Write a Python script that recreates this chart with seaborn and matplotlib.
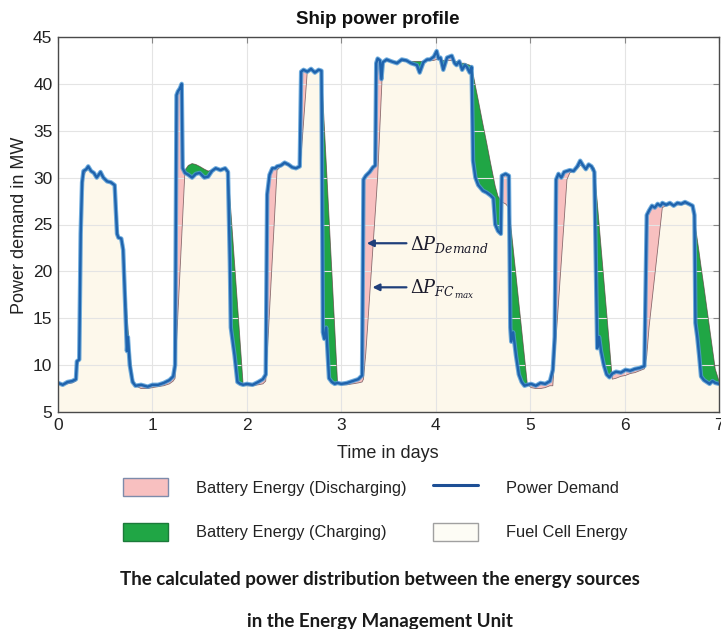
import numpy as np
import pandas as pd
import matplotlib
matplotlib.use("Agg")
import matplotlib.pyplot as plt
import seaborn as sns
from matplotlib.patches import Patch
from matplotlib.lines import Line2D

# ---------------- data ----------------
t = [0.00, 0.05, 0.10, 0.15, 0.19, 0.200, 0.225, 0.240, 0.255, 0.27, 0.30, 0.32, 0.35, 0.38, 0.41, 0.43, 0.45, 0.48,
     0.52, 0.56, 0.60, 0.625, 0.64, 0.67, 0.69, 0.71, 0.73, 0.74, 0.76, 0.79, 0.82, 0.88, 0.95, 1.00, 1.06, 1.12,
     1.18, 1.22, 1.24, 1.255, 1.27, 1.29, 1.31, 1.32, 1.345, 1.38, 1.42, 1.46, 1.50, 1.55, 1.59, 1.63, 1.67, 1.72,
     1.77, 1.80, 1.82, 1.83, 1.85, 1.87, 1.90, 1.93, 1.96, 2.00, 2.06, 2.12, 2.17, 2.20, 2.215, 2.24, 2.27, 2.30,
     2.32, 2.36, 2.40, 2.44, 2.48, 2.52, 2.56, 2.575, 2.60, 2.64, 2.68, 2.72, 2.76, 2.79, 2.805, 2.82, 2.84, 2.87,
     2.90, 2.93, 2.96, 3.00, 3.06, 3.12, 3.18, 3.22, 3.235, 3.26, 3.30, 3.335, 3.36, 3.37, 3.385, 3.41, 3.425, 3.44,
     3.48, 3.53, 3.59, 3.64, 3.69, 3.74, 3.80, 3.83, 3.87, 3.91, 3.94, 3.98, 4.01, 4.03, 4.05, 4.08, 4.12, 4.17,
     4.20, 4.22, 4.25, 4.28, 4.31, 4.33, 4.36, 4.38, 4.395, 4.42, 4.45, 4.50, 4.54, 4.58, 4.61, 4.63, 4.66, 4.69,
     4.70, 4.74, 4.775, 4.79, 4.80, 4.82, 4.85, 4.88, 4.91, 4.94, 4.97, 5.01, 5.06, 5.11, 5.16, 5.21, 5.24, 5.26,
     5.275, 5.30, 5.33, 5.36, 5.39, 5.42, 5.46, 5.50, 5.53, 5.56, 5.59, 5.62, 5.65, 5.68, 5.70, 5.71, 5.73, 5.75,
     5.78, 5.81, 5.84, 5.87, 5.91, 5.96, 6.01, 6.06, 6.11, 6.16, 6.21, 6.235, 6.26, 6.29, 6.32, 6.35, 6.38, 6.40,
     6.44, 6.48, 6.52, 6.56, 6.60, 6.64, 6.68, 6.72, 6.74, 6.75, 6.77, 6.79, 6.81, 6.84, 6.87, 6.90, 6.93, 6.96, 7.00]

demand = [8.1, 7.9, 8.2, 8.3, 8.5, 10.4, 10.6, 24.0, 29.5, 30.7, 30.9, 31.2, 30.7, 30.5, 30.0, 30.3, 30.6, 30.0,
          29.6, 29.5, 29.2, 24.0, 23.6, 23.5, 22.3, 17.0, 11.5, 13.0, 10.0, 8.2, 7.8, 7.9, 7.7, 7.9, 7.9, 8.1,
          8.4, 8.8, 10.0, 38.8, 39.2, 39.5, 40.0, 31.0, 30.5, 30.3, 30.0, 30.4, 30.5, 30.0, 30.1, 30.7, 31.0, 30.8,
          31.0, 30.6, 21.0, 14.0, 12.5, 11.0, 8.2, 8.0, 7.9, 8.0, 7.9, 8.2, 8.5, 9.0, 28.2, 30.3, 31.0, 31.0,
          31.2, 31.3, 31.6, 31.4, 31.1, 31.0, 31.2, 41.3, 41.5, 41.3, 41.6, 41.2, 41.5, 41.4, 13.5, 12.8, 14.0, 8.6,
          8.2, 8.0, 8.1, 8.0, 8.1, 8.3, 8.5, 8.9, 29.8, 30.2, 30.6, 31.1, 31.3, 42.2, 42.7, 42.5, 40.5, 42.3,
          42.6, 42.4, 42.2, 42.6, 42.5, 42.2, 42.0, 41.2, 42.3, 42.6, 42.6, 42.9, 43.5, 42.7, 42.8, 41.5, 42.8, 43.0,
          42.2, 42.0, 42.4, 41.5, 42.0, 41.8, 41.2, 41.8, 31.8, 30.0, 29.2, 28.6, 28.4, 28.1, 27.8, 25.0, 24.3, 24.0,
          30.2, 30.4, 30.2, 14.0, 12.5, 13.5, 11.0, 9.0, 8.2, 7.8, 7.9, 8.0, 7.8, 8.1, 8.0, 8.3, 9.5, 13.0,
          29.8, 30.4, 30.0, 30.6, 30.7, 30.8, 30.7, 31.2, 31.8, 31.3, 30.9, 31.4, 31.2, 30.6, 18.0, 11.8, 13.0, 11.5,
          10.0, 9.0, 8.7, 9.1, 9.3, 9.2, 9.5, 9.4, 9.6, 9.7, 9.9, 26.0, 26.5, 27.0, 26.8, 27.2, 27.0, 27.3,
          27.1, 27.3, 27.0, 27.3, 27.2, 27.4, 27.2, 27.0, 26.0, 14.5, 13.0, 11.0, 8.8, 8.4, 8.2, 8.0, 8.3, 8.1, 8.0]

fuel_cell = [8.0, 7.9, 8.0, 8.1, 8.3, 9.8, 10.5, 20.0, 27.5, 30.2, 30.8, 31.0, 30.8, 30.5, 30.2, 30.2, 30.3, 30.0,
             29.7, 29.4, 29.2, 26.0, 23.8, 23.4, 22.8, 19.0, 15.5, 14.0, 11.5, 8.6, 7.8, 7.5, 7.5, 7.6, 7.7, 7.8,
             8.0, 8.3, 8.6, 12.4, 15.5, 19.6, 23.7, 25.8, 30.8, 31.3, 31.5, 31.4, 31.2, 30.9, 30.7, 30.8, 31.0, 30.9,
             31.0, 30.7, 28.0, 26.5, 23.7, 20.8, 16.6, 12.3, 8.0, 7.8, 7.8, 7.9, 8.0, 8.3, 11.0, 15.8, 21.4, 27.0,
             30.8, 31.2, 31.4, 31.3, 31.1, 31.0, 31.1, 32.4, 35.8, 41.3, 41.4, 41.4, 41.4, 41.4, 38.5, 35.5, 31.7, 25.8,
             20.0, 14.1, 8.2, 7.9, 7.9, 8.0, 8.1, 8.2, 8.5, 11.3, 17.3, 22.5, 26.2, 27.7, 30.0, 35.6, 39.0, 42.4,
             42.4, 42.4, 42.4, 42.4, 42.4, 42.4, 42.4, 42.4, 42.4, 42.5, 42.5, 42.5, 42.6, 42.6, 42.6, 42.5, 42.5, 42.5,
             42.4, 42.4, 42.3, 42.2, 42.2, 42.1, 42.0, 41.9, 41.1, 39.8, 38.3, 35.7, 33.7, 31.6, 30.1, 29.1, 28.0, 27.6,
             27.4, 27.2, 26.8, 25.4, 24.4, 22.5, 19.6, 16.7, 13.8, 10.9, 8.0, 7.6, 7.5, 7.5, 7.6, 7.8, 7.8, 10.7,
             12.9, 16.6, 21.0, 25.4, 29.8, 30.5, 30.7, 31.0, 31.3, 31.3, 31.0, 31.2, 31.2, 31.0, 28.6, 27.5, 25.1, 22.7,
             19.2, 15.6, 12.1, 8.5, 8.6, 8.8, 8.9, 9.1, 9.2, 9.4, 9.6, 11.0, 14.1, 16.8, 19.5, 22.2, 24.9, 26.8,
             27.0, 27.1, 27.1, 27.1, 27.1, 27.2, 27.2, 27.0, 25.6, 24.8, 23.4, 22.0, 20.5, 18.4, 16.2, 14.0, 11.8, 9.6, 8.3]

x_ticks = [0, 1, 2, 3, 4, 5, 6, 7]
y_ticks = [5, 10, 15, 20, 25, 30, 35, 40, 45]
legend_labels = ["Battery Energy (Discharging)", "Battery Energy (Charging)", "Power Demand", "Fuel Cell Energy"]
title = "Ship power profile"
x_label = "Time in days"
y_label = "Power demand in MW"
caption1 = "The calculated power distribution between the energy sources"
caption2 = "in the Energy Management Unit"

# ---------------- styling ----------------
sns.set_theme(style="whitegrid")
plt.rcParams["font.family"] = ["Liberation Sans", "DejaVu Sans"]
plt.rcParams["mathtext.fontset"] = "dejavuserif"

PINK = "#f8c0c0"
GREEN = "#20a645"
CREAM = "#fdf8eb"
BLUE = "#1f63ad"
BLUE_LIGHT = "#4f9ad6"
ARROW = "#1f3f7a"

df = pd.DataFrame({"t": t, "demand": demand, "fc": fuel_cell})
tt = df["t"].to_numpy()
dd = df["demand"].to_numpy()
ff = df["fc"].to_numpy()

fig = plt.figure(figsize=(7.21, 6.29), dpi=100)
ax = fig.add_axes([58 / 721, (629 - 412) / 629, (719 - 58) / 721, (412 - 37) / 629])

ax.fill_between(tt, 5, np.minimum(dd, ff), color=CREAM, lw=0, zorder=1)
ax.fill_between(tt, ff, dd, where=dd > ff, interpolate=True, color=PINK, lw=0, zorder=1.2)
ax.fill_between(tt, ff, dd, where=ff > dd, interpolate=True, color=GREEN, lw=0, zorder=1.2)
ax.plot(tt, ff, color="#5a3a3a", lw=0.6, alpha=0.7, zorder=1.8)

sns.lineplot(data=df, x="t", y="demand", ax=ax, color=BLUE_LIGHT, lw=3.2, alpha=0.8,
             estimator=None, sort=False, zorder=2)
sns.lineplot(data=df, x="t", y="demand", ax=ax, color=BLUE, lw=1.7,
             estimator=None, sort=False, zorder=2.1)

ax.set_xlim(0, 7)
ax.set_ylim(5, 45)
ax.set_xticks(x_ticks)
ax.set_yticks(y_ticks)
ax.set_xlabel("")
ax.set_ylabel("")
ax.set_facecolor("white")
ax.set_axisbelow("line")
ax.grid(True, color="#e4e4e4", lw=0.8)
for s in ax.spines.values():
    s.set_visible(True)
    s.set_color("#4a4a4a")
    s.set_linewidth(1.0)
ax.tick_params(axis="both", direction="in", length=4, width=0.8, color="#888888",
               labelsize=12.5, labelcolor="#222222", pad=4, top=True, right=True)

# annotations
ax.annotate("", xy=(3.27, 23.0), xytext=(3.69, 23.0),
            arrowprops=dict(arrowstyle="-|>", color=ARROW, lw=1.6, mutation_scale=10, shrinkA=0, shrinkB=0))
ax.annotate("", xy=(3.33, 18.3), xytext=(3.69, 18.3),
            arrowprops=dict(arrowstyle="-|>", color=ARROW, lw=1.6, mutation_scale=10, shrinkA=0, shrinkB=0))
ax.text(3.73, 22.3, r"$\Delta P_{Demand}$", fontsize=12.8, color="#1a1a2a", va="baseline", ha="left")
ax.text(3.73, 17.6, r"$\Delta P_{FC_{\,max}}$", fontsize=12.8, color="#1a1a2a", va="baseline", ha="left")

# titles and labels
fig.text(378 / 721, 1 - 20 / 629, title, ha="center", va="center", fontsize=13.5, fontweight="bold", color="#111111")
fig.text(388 / 721, 1 - 453 / 629, x_label, ha="center", va="center", fontsize=13, color="#222222")
fig.text(20 / 721, 1 - 225 / 629, y_label, ha="center", va="center", rotation=90, fontsize=13, color="#222222")

# legend
handles = [Patch(facecolor=PINK, edgecolor="#7d8bab", lw=1.0),
           Patch(facecolor=GREEN, edgecolor="#1c7a3a", lw=1.0),
           Line2D([0], [0], color="#1d4f95", lw=2.2),
           Patch(facecolor="#fdfcf5", edgecolor="#a0a0a0", lw=1.0)]
fig.legend(handles, legend_labels, ncol=2, loc="center", bbox_to_anchor=(375 / 721, 1 - 509.5 / 629),
           frameon=False, fontsize=11.8, handlelength=2.75, handleheight=1.35, handletextpad=1.7,
           columnspacing=1.6, labelspacing=1.6, labelcolor="#222222")

# caption
fig.text(380 / 721, 1 - 580 / 629, caption1, ha="center", va="center", fontsize=13.5, fontweight="bold",
         family=["Lato", "DejaVu Sans"], color="#1a1a1a")
fig.text(380 / 721, 1 - 621 / 629, caption2, ha="center", va="center", fontsize=13.5, fontweight="bold",
         family=["Lato", "DejaVu Sans"], color="#1a1a1a")

fig.savefig("out.png", dpi=100)
